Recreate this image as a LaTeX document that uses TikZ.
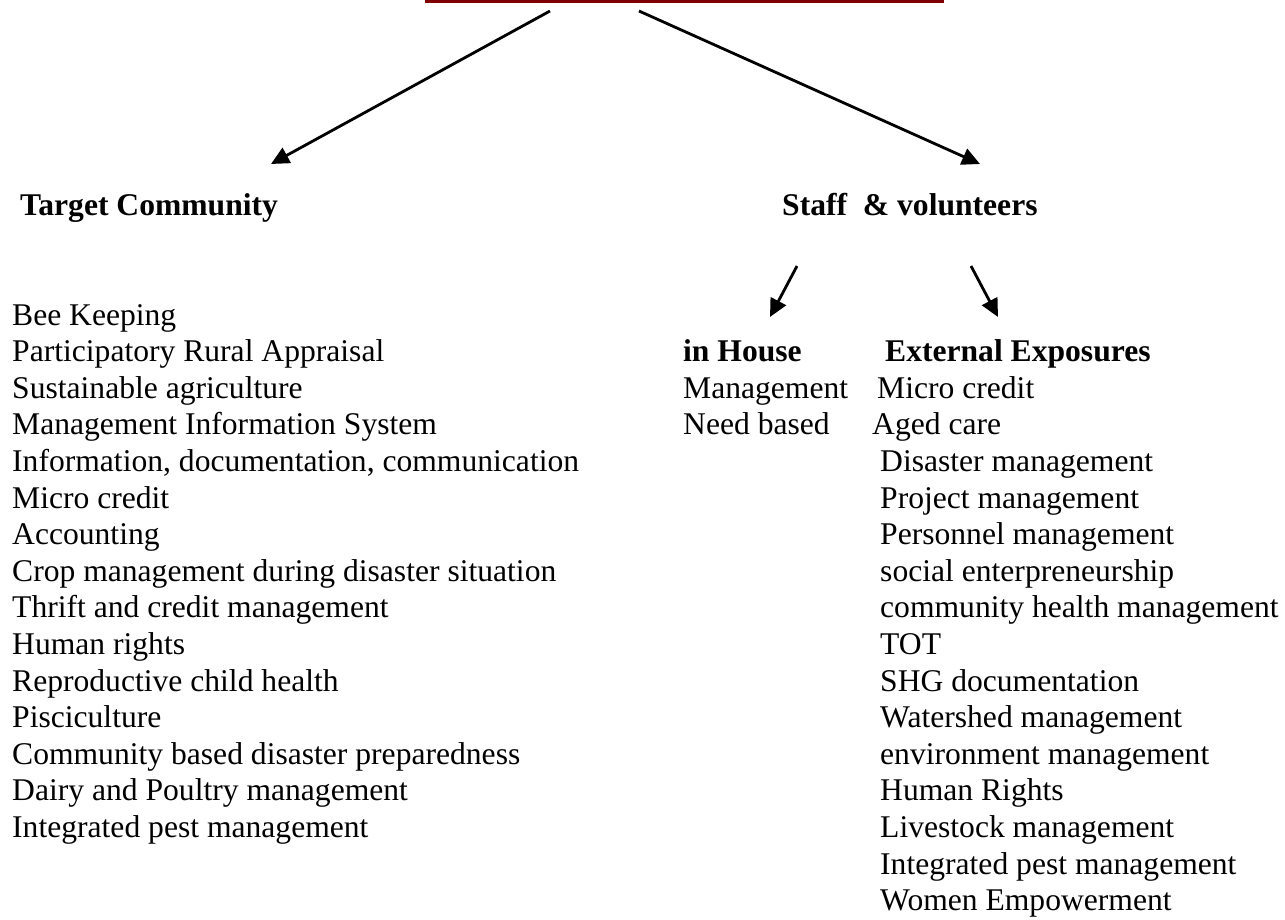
\documentclass[tikz,border=0pt]{standalone}
\usepackage{fontspec}
\setmainfont{Liberation Serif}
\usetikzlibrary{arrows.meta}
\definecolor{darkred}{HTML}{800000}
\begin{document}
\begin{tikzpicture}[x=1pt,y=-1pt,
  txt/.style={anchor=base west, inner sep=0pt, font=\fontsize{31.6}{36.6}\selectfont},
  hdr/.style={anchor=base west, inner sep=0pt, font=\fontsize{31.6}{36.6}\selectfont\bfseries},
  conn/.style={line width=2.8pt, -{Triangle[length=18pt,width=17pt]}}]
\useasboundingbox (0,0) rectangle (1285,920);
\fill[darkred] (425,0) rectangle (944,3);
% headers
\node[hdr] (tc) at (20,215) {Target Community};
\node[hdr] (sv) at (782,215) {Staff\ \ \& volunteers};
\node[hdr] (ih) at (683,361.6) {in House};
\node[hdr] (ee) at (885,361.6) {External Exposures};
% coordinates for connectors
\coordinate (t1) at (550,11);
\coordinate (t2) at (639,11);
\coordinate (tcA) at (271,164);
\coordinate (svA) at (980,164);
\coordinate (s1) at (797,266);
\coordinate (s2) at (971,266);
\coordinate (ihA) at (770,317);
\coordinate (eeA) at (998,317);
\draw[conn] (t1) -- (tcA);
\draw[conn] (t2) -- (svA);
\draw[conn] (s1) -- (ihA);
\draw[conn] (s2) -- (eeA);
% left list
\foreach \t [count=\i from 0] in {Bee Keeping, Participatory Rural Appraisal, Sustainable agriculture, Management Information System, {Information, documentation, communication}, Micro credit, Accounting, Crop management during disaster situation, Thrift and credit management, Human rights, Reproductive child health, Pisciculture, Community based disaster preparedness, Dairy and Poultry management, Integrated pest management}
  \node[txt] (L\i) at (12,325+\i*36.6) {\t};
% in house list
\node[txt] (ih1) at (683,398.2) {Management};
\node[txt] (ih2) at (683,434.8) {Need based};
% external list
\node[txt] (ee1) at (877,398.2) {Micro credit};
\node[txt] (ee2) at (872,434.8) {Aged care};
\foreach \t [count=\i from 4] in {Disaster management, Project management, Personnel management, social enterpreneurship, community health management, TOT, SHG documentation, Watershed management, environment management, Human Rights, Livestock management, Integrated pest management, Women Empowerment}
  \node[txt] (E\i) at (880,325+\i*36.6) {\t};
\end{tikzpicture}
\end{document}
